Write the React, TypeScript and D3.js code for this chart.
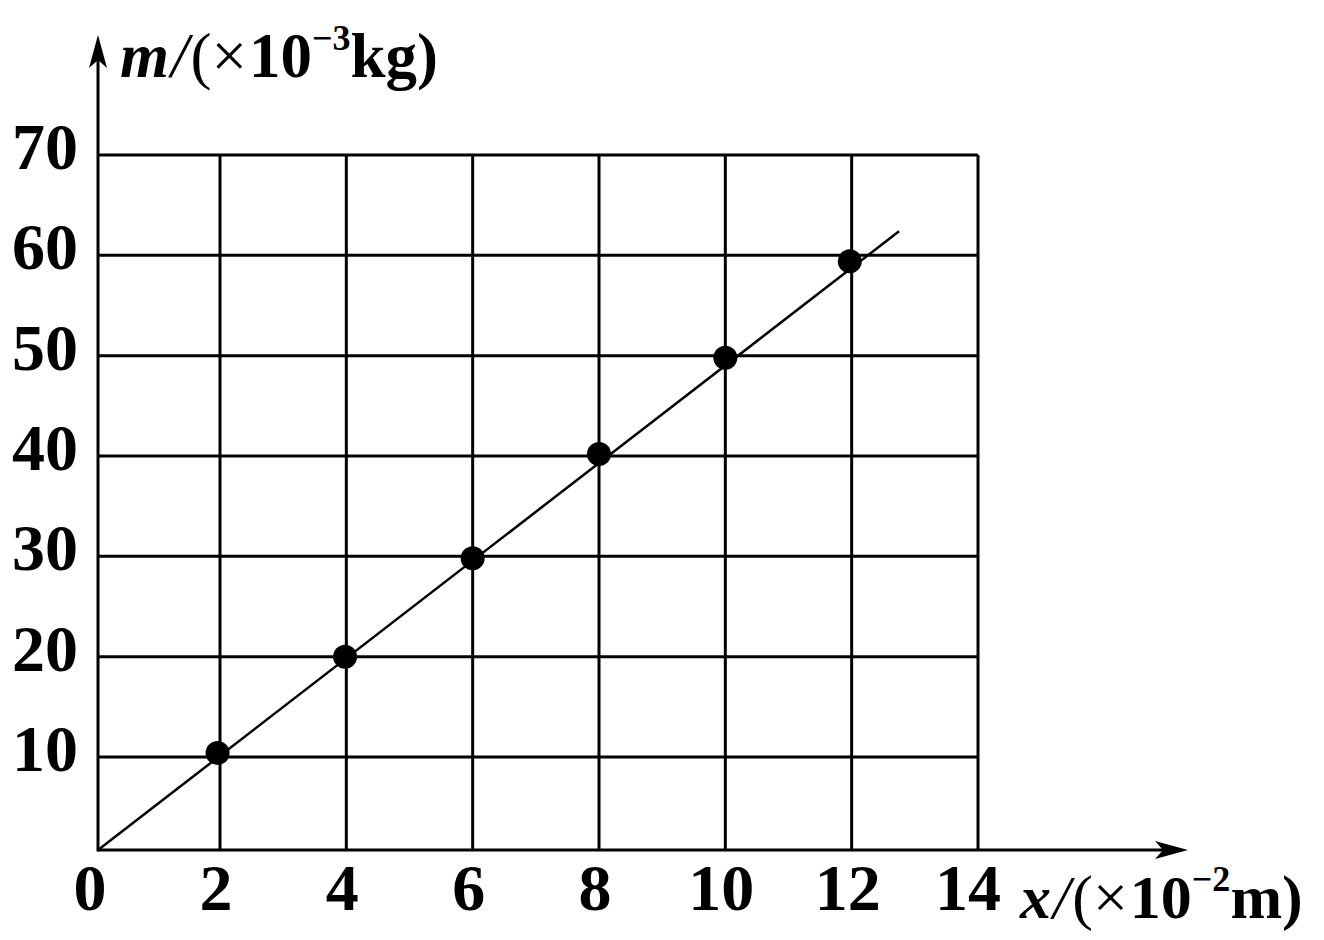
import React from "react";
import * as d3 from "d3";

const xTicks = [0, 2, 4, 6, 8, 10, 12, 14];
const yTicks = [10, 20, 30, 40, 50, 60, 70];
const xGrid = [2, 4, 6, 8, 10, 12, 14];
const yGrid = [10, 20, 30, 40, 50, 60, 70];
const xValues = [1.96, 3.98, 6, 8, 10, 11.97];
const mValues = [10.4, 20, 29.8, 40.2, 49.8, 59.4];
const fitX = [0, 12.75];
const fitY = [0, 62.4];

const W = 1324;
const H = 940;

export default function App() {
  const x = d3.scaleLinear().domain([0, 2, 14]).range([98, 220, 978]);
  const y = d3.scaleLinear().domain([0, 10, 70]).range([850, 757, 155]);
  const line = d3
    .line<number>()
    .x((_, i) => x(fitX[i]))
    .y((d) => y(d));
  const font = "'Liberation Serif', 'DejaVu Serif', serif";
  const sw = 3;
  return (
    <svg
      width={W}
      height={H}
      viewBox={`0 0 ${W} ${H}`}
      style={{ position: "absolute", left: 0, top: 0, background: "#fff" }}
    >
      <rect x={0} y={0} width={W} height={H} fill="#fff" />
      {/* grid */}
      {yGrid.map((v) => (
        <line key={"gy" + v} x1={x(0)} x2={x(14)} y1={y(v)} y2={y(v)} stroke="#000" strokeWidth={sw} />
      ))}
      {xGrid.map((v) => (
        <line key={"gx" + v} x1={x(v)} x2={x(v)} y1={y(0)} y2={y(70)} stroke="#000" strokeWidth={sw} />
      ))}
      {/* axes */}
      <line x1={x(0)} x2={1170} y1={y(0)} y2={y(0)} stroke="#000" strokeWidth={sw} />
      <line x1={x(0)} x2={x(0)} y1={y(0) + 1.5} y2={55} stroke="#000" strokeWidth={sw} />
      <path d={`M1188,${y(0)} L1155,${y(0) - 9} L1163,${y(0)} L1155,${y(0) + 9} Z`} fill="#000" />
      <path d={`M${x(0)},35 L${x(0) - 9},68 L${x(0)},60 L${x(0) + 9},68 Z`} fill="#000" />
      {/* fit line */}
      <path d={line(fitY) || ""} fill="none" stroke="#000" strokeWidth={2.5} />
      {/* points */}
      {xValues.map((v, i) => (
        <circle key={"p" + i} cx={x(v)} cy={y(mValues[i])} r={12} fill="#000" />
      ))}
      {/* tick labels */}
      {yTicks.map((v) => (
        <text
          key={"ty" + v}
          x={78}
          y={y(v) + 14}
          textAnchor="end"
          fontFamily={font}
          fontWeight="bold"
          fontSize={66}
        >
          {v}
        </text>
      ))}
      {xTicks.map((v) => (
        <text
          key={"tx" + v}
          x={x(v) - (v === 0 ? 8 : v === 14 ? 10 : 4)}
          y={910}
          textAnchor="middle"
          fontFamily={font}
          fontWeight="bold"
          fontSize={66}
        >
          {v}
        </text>
      ))}
      {/* axis titles */}
      <text x={120} y={77} fontFamily={font} fontWeight="bold" fontSize={63}>
        <tspan fontStyle="italic">m</tspan>
        <tspan fontStyle="italic" fontWeight="normal" dx={2}>/</tspan>
        <tspan fontWeight="normal" dx={2}>(×</tspan>
        <tspan dx={2}>10</tspan>
        <tspan fontSize={36} dy={-27}>−3</tspan>
        <tspan dy={27}>kg)</tspan>
      </text>
      <text x={1020} y={918} fontFamily={font} fontWeight="bold" fontSize={62}>
        <tspan fontStyle="italic">x</tspan>
        <tspan fontStyle="italic" fontWeight="normal" dx={2}>/</tspan>
        <tspan fontWeight="normal" dx={2}>(×</tspan>
        <tspan dx={2}>10</tspan>
        <tspan fontSize={36} dy={-27}>−2</tspan>
        <tspan dy={27}>m)</tspan>
      </text>
    </svg>
  );
}
